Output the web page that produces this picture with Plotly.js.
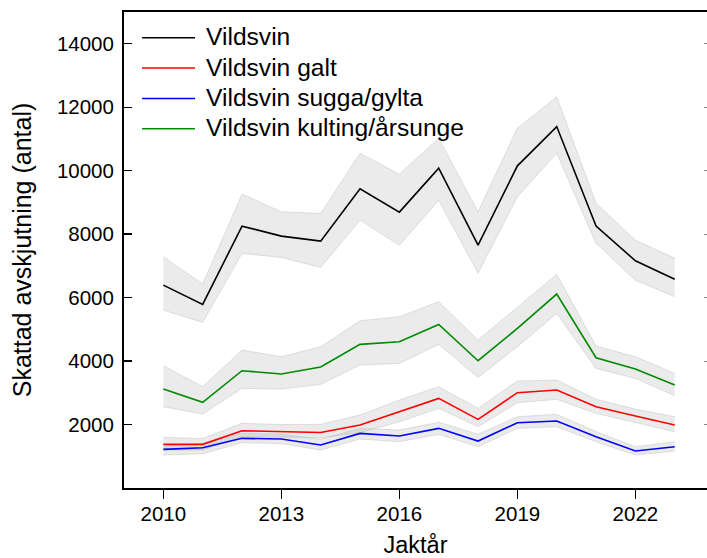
<!DOCTYPE html>
<html>
<head>
<meta charset="utf-8">
<script src="https://cdn.plot.ly/plotly-3.0.1.min.js"></script>
<style>html,body{margin:0;padding:0;background:#fff;}#chart{width:707px;height:558px;}</style>
</head>
<body>
<div id="chart"></div>
<script>
var years = [2010,2011,2012,2013,2014,2015,2016,2017,2018,2019,2020,2021,2022,2023];

var seriesNames = ["Vildsvin", "Vildsvin galt", "Vildsvin sugga/gylta", "Vildsvin kulting/årsunge"];
var seriesColors = ["#000000", "#ff0000", "#0000ff", "#008a00"];

var vildsvin      = [6394, 5786, 8253, 7938, 7780, 9430, 8694, 10080, 7655, 10153, 11390, 8253, 7160, 6580];
var vildsvinLow   = [5607, 5219, 7392, 7266, 6951, 8442, 7650, 9070, 6770, 9180, 10550, 7710, 6550, 6030];
var vildsvinHigh  = [7287, 6426, 9261, 8705, 8652, 10550, 9890, 11020, 8700, 11340, 12330, 8970, 7810, 7240];

var galt          = [1376, 1376, 1806, 1775, 1750, 1984, 2405, 2824, 2163, 3003, 3087, 2562, 2268, 1984];
var galtLow       = [1197, 1200, 1617, 1590, 1586, 1743, 2090, 2510, 1932, 2688, 2793, 2352, 2058, 1775];
var galtHigh      = [1596, 1560, 2037, 2000, 2006, 2300, 2772, 3192, 2510, 3370, 3402, 2793, 2488, 2247];

var sugga         = [1218, 1270, 1565, 1543, 1354, 1722, 1638, 1880, 1480, 2058, 2110, 1617, 1166, 1302];
var suggaLow      = [1040, 1080, 1428, 1400, 1197, 1543, 1460, 1691, 1302, 1880, 1932, 1460, 1040, 1166];
var suggaHigh     = [1323, 1400, 1722, 1700, 1533, 1880, 1827, 2069, 1691, 2247, 2321, 1775, 1302, 1460];

var kulting       = [3118, 2700, 3696, 3591, 3811, 4526, 4609, 5155, 4011, 5030, 6111, 4105, 3748, 3244];
var kultingLow    = [2562, 2331, 3140, 3118, 3266, 3875, 3927, 4525, 3486, 4452, 5502, 3769, 3455, 2908];
var kultingHigh   = [3853, 3192, 4347, 4137, 4452, 5271, 5397, 5870, 4662, 5712, 6731, 4473, 4137, 3612];

var yTickVals = [2000, 4000, 6000, 8000, 10000, 12000, 14000];
var xTickVals = [2010, 2013, 2016, 2019, 2022];

var means = [vildsvin, galt, sugga, kulting];
var lows  = [vildsvinLow, galtLow, suggaLow, kultingLow];
var highs = [vildsvinHigh, galtHigh, suggaHigh, kultingHigh];

var traces = [];
var edge = {color: "rgba(185,185,185,0.7)", width: 0.6};
for (var i = 0; i < means.length; i++) {
  traces.push({x: years, y: lows[i], type: "scatter", mode: "lines", line: edge,
               showlegend: false, hoverinfo: "skip"});
  traces.push({x: years, y: highs[i], type: "scatter", mode: "lines", line: edge,
               fill: "tonexty", fillcolor: "rgba(150,150,150,0.19)",
               showlegend: false, hoverinfo: "skip"});
}
for (var j = 0; j < means.length; j++) {
  traces.push({x: years, y: means[j], type: "scatter", mode: "lines", name: seriesNames[j],
               line: {color: seriesColors[j], width: 1.6}, showlegend: false});
}
// empty helper trace so the right-hand tick axis is drawn
traces.push({x: [], y: [], type: "scatter", mode: "lines", yaxis: "y2", showlegend: false, hoverinfo: "skip"});

var font = "Liberation Sans, Arial, sans-serif";

// Legend drawn as key lines + text labels (paper coordinates)
var legTop = 0.946, legStep = 0.0638;
var legendShapes = [], legendAnnots = [];
for (var k = 0; k < seriesNames.length; k++) {
  var yy = legTop - k * legStep;
  legendShapes.push({type: "line", xref: "paper", yref: "paper", x0: 0.031, x1: 0.1218, y0: yy, y1: yy,
                     line: {color: seriesColors[k], width: 1.6}});
  legendAnnots.push({xref: "paper", yref: "paper", x: 0.1372, y: yy, xanchor: "left", yanchor: "middle",
                     yshift: 1, text: seriesNames[k], showarrow: false,
                     font: {size: 24.6, family: font, color: "#000"}});
}

var layout = {
  width: 707, height: 558,
  margin: {l: 124, r: 0, t: 12, b: 70},
  paper_bgcolor: "#fff", plot_bgcolor: "#fff",
  font: {family: font, color: "#000"},
  showlegend: false,
  shapes: legendShapes,
  annotations: legendAnnots,
  xaxis: {
    range: [2009, 2023.82], tickvals: xTickVals, ticktext: xTickVals.map(String),
    ticks: "outside", ticklen: 9, tickwidth: 1.3, tickcolor: "#000",
    showline: true, linecolor: "#000", linewidth: 2, mirror: true,
    showgrid: false, zeroline: false, ticklabelstandoff: -3,
    tickfont: {size: 20.5, family: font, color: "#000"},
    title: {text: "Jaktår", font: {size: 23.5, family: font, color: "#000"}, standoff: 16}
  },
  yaxis: {
    range: [0, 15000], tickvals: yTickVals, ticktext: yTickVals.map(String),
    ticks: "inside", ticklen: 8, tickwidth: 1.3, tickcolor: "#000",
    showline: true, linecolor: "#000", linewidth: 2,
    showgrid: false, zeroline: false, ticklabelstandoff: 4,
    tickfont: {size: 20.5, family: font, color: "#000"},
    title: {text: "Skattad avskjutning (antal)", font: {size: 25, family: font, color: "#000"}, standoff: 18}
  },
  yaxis2: {
    overlaying: "y", side: "right", anchor: "x", range: [0, 15000], tickvals: yTickVals,
    showticklabels: false, ticks: "inside", ticklen: 3, tickcolor: "#888", tickwidth: 1,
    showline: false, showgrid: false, zeroline: false
  }
};

Plotly.newPlot("chart", traces, layout, {staticPlot: true, displayModeBar: false});
</script>
</body>
</html>
